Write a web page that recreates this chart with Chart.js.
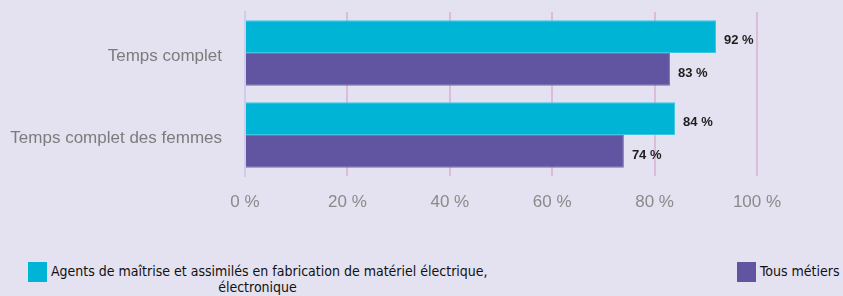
<!DOCTYPE html>
<html>
<head>
<meta charset="utf-8">
<script src="https://cdn.jsdelivr.net/npm/chart.js@4/dist/chart.umd.min.js"></script>
<style>
    html, body {
        margin: 0;
        padding: 0;
        background: #e4e1f0;
        width: 843px;
        height: 296px;
        overflow: hidden;
        position: relative;
    }
    #wrap {
        position: absolute;
        left: 0;
        top: 0;
        width: 843px;
        height: 215px;
    }
    .legend-box {
        position: absolute;
        width: 19px;
        height: 20px;
        top: 262px;
    }
    .legend-text {
        position: absolute;
        font-family: "DejaVu Sans", sans-serif;
        font-stretch: condensed;
        font-size: 14px;
        line-height: 16px;
        color: #111;
        top: 263px;
        white-space: nowrap;
    }
</style>
</head>
<body>
<div id="wrap"><canvas id="chart"></canvas></div>

<div class="legend-box" style="left:28px;background:#00b4d6"></div>
<div class="legend-text" id="leg1" style="left:51px;width:413px;text-align:center"></div>
<div class="legend-box" style="left:737px;background:#6154a0"></div>
<div class="legend-text" id="leg2" style="left:760px"></div>

<script>
const categories = ['Temps complet', 'Temps complet des femmes'];
const seriesNames = ['Agents de maîtrise et assimilés en fabrication de matériel électrique, électronique', 'Tous métiers'];
const agentsValues = [92, 84];
const tousValues = [83, 74];
const xTicks = [0, 20, 40, 60, 80, 100];

document.getElementById('leg1').innerHTML = 'Agents de maîtrise et assimilés en fabrication de matériel électrique,<br>électronique';
document.getElementById('leg2').textContent = seriesNames[1];

// value labels at the end of each bar
const valueLabels = {
    id: 'valueLabels',
    afterDatasetsDraw(chart) {
        const ctx = chart.ctx;
        ctx.save();
        ctx.font = 'bold 13px "Liberation Sans", Arial, sans-serif';
        ctx.fillStyle = '#1e1e1e';
        ctx.textAlign = 'left';
        ctx.textBaseline = 'middle';
        chart.data.datasets.forEach((ds, i) => {
            chart.getDatasetMeta(i).data.forEach((bar, j) => {
                ctx.fillText(ds.data[j] + ' %', bar.x + 8, bar.y + 4);
            });
        });
        ctx.restore();
    }
};

new Chart(document.getElementById('chart'), {
    type: 'bar',
    data: {
        labels: categories,
        datasets: [
            {
                label: seriesNames[0],
                data: agentsValues,
                backgroundColor: '#00b4d6',
                borderColor: '#3cc6e2',
                borderWidth: 1,
                categoryPercentage: 0.8,
                barPercentage: 1
            },
            {
                label: seriesNames[1],
                data: tousValues,
                backgroundColor: '#6154a0',
                borderColor: '#7a6cb8',
                borderWidth: 1,
                categoryPercentage: 0.8,
                barPercentage: 1
            }
        ]
    },
    options: {
        indexAxis: 'y',
        responsive: true,
        maintainAspectRatio: false,
        animation: false,
        layout: {padding: {top: 12, right: 86, left: 0, bottom: 0}},
        plugins: {
            legend: {display: false},
            tooltip: {enabled: false}
        },
        scales: {
            x: {
                min: 0,
                max: 100,
                afterBuildTicks: (scale) => {
                    scale.ticks = xTicks.map(v => ({value: v}));
                },
                afterFit: (scale) => { scale.height = 39; },
                grid: {
                    color: '#dbbcdc',
                    lineWidth: 2,
                    drawTicks: false
                },
                border: {display: false},
                ticks: {
                    padding: 16,
                    color: '#8a8a8a',
                    font: {family: '"Liberation Sans", Arial, sans-serif', size: 17},
                    callback: (v) => v + ' %'
                }
            },
            y: {
                afterFit: (scale) => {
                    scale.width = 245;
                    scale.paddingTop = 0;
                    scale.paddingBottom = 0;
                },
                grid: {display: false, drawTicks: false},
                border: {display: true, color: '#cfcdeb', width: 2},
                ticks: {
                    padding: 23,
                    labelOffset: 3,
                    color: '#7c7c7c',
                    font: {family: '"Liberation Sans", Arial, sans-serif', size: 17}
                }
            }
        }
    },
    plugins: [valueLabels]
});
</script>
</body>
</html>
